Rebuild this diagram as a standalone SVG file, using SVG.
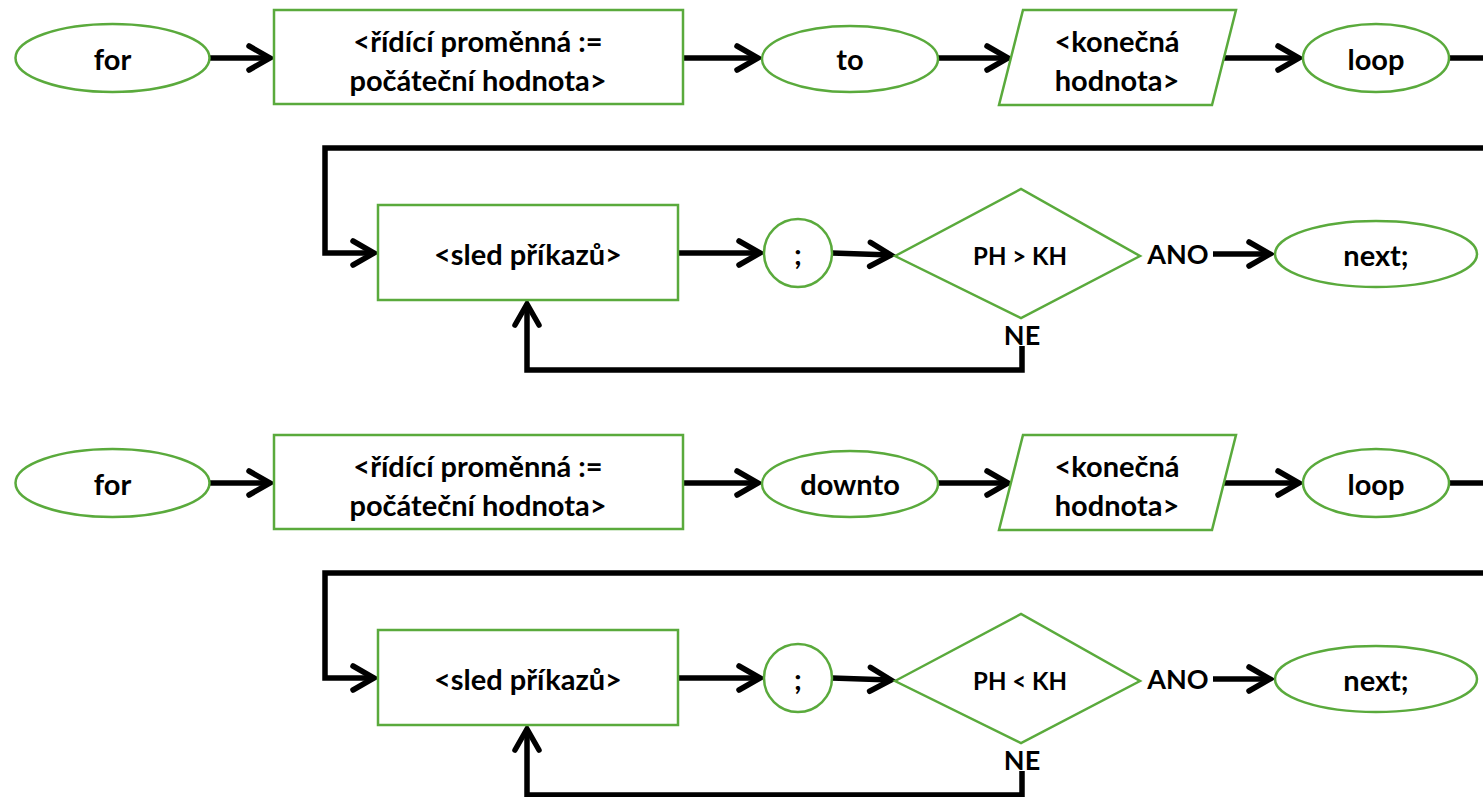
<svg xmlns="http://www.w3.org/2000/svg" width="1483" height="797" viewBox="0 0 1483 797">
<defs>
<style>
.n{fill:#fff;stroke:#5AAA3C;stroke-width:2.5}
.t{font-family:Lato,"Open Sans","DejaVu Sans",sans-serif;font-weight:bold;font-size:29px;fill:#000;text-anchor:middle;dominant-baseline:central}
.s{font-size:24px}
.m{font-size:27px}
.c{fill:none;stroke:#000;stroke-width:5.5;marker-end:url(#ah)}
.p{fill:none;stroke:#000;stroke-width:5.5}
</style>
<marker id="ah" markerUnits="userSpaceOnUse" markerWidth="40" markerHeight="40" viewBox="-30 -20 40 40" refX="0" refY="0" orient="auto">
<path d="M-21,-12 L0,0 L-21,12" fill="none" stroke="#000" stroke-width="5.5" stroke-linecap="round" stroke-linejoin="miter"/>
</marker>
</defs>
<rect width="1483" height="797" fill="#fff"/>

<g id="connectors">
<line class="c" x1="210" y1="58" x2="270" y2="58"/>
<line class="c" x1="683" y1="58" x2="758" y2="58"/>
<line class="c" x1="938" y1="58" x2="1008" y2="58"/>
<line class="c" x1="1224" y1="58" x2="1299" y2="58"/>
<line class="p" x1="1449" y1="58" x2="1483" y2="58"/>
<path class="c" d="M1483,148 H325 V253 H374"/>
<line class="c" x1="678" y1="253" x2="760" y2="253"/>
<line class="c" x1="832" y1="253" x2="891" y2="255"/>
<line class="c" x1="1213" y1="254" x2="1270" y2="254"/>
<path class="c" d="M1022,346 V370 H527 V304"/>

<line class="c" x1="210" y1="483" x2="270" y2="483"/>
<line class="c" x1="683" y1="483" x2="758" y2="483"/>
<line class="c" x1="938" y1="483" x2="1008" y2="483"/>
<line class="c" x1="1224" y1="483" x2="1299" y2="483"/>
<line class="p" x1="1449" y1="483" x2="1483" y2="483"/>
<path class="c" d="M1483,573 H325 V678 H374"/>
<line class="c" x1="678" y1="678" x2="760" y2="678"/>
<line class="c" x1="832" y1="678" x2="891" y2="680"/>
<line class="c" x1="1213" y1="679" x2="1270" y2="679"/>
<path class="c" d="M1022,771 V795 H527 V729"/>
</g>

<g id="for1"><ellipse class="n" cx="112.5" cy="58" rx="97" ry="34"/><text class="t" x="112.5" y="58">for</text></g>
<g id="init1"><rect class="n" x="274" y="10" width="409" height="94"/><text class="t" x="478" y="40">&lt;řídící proměnná :=</text><text class="t" x="478" y="79">počáteční hodnota&gt;</text></g>
<g id="to1"><ellipse class="n" cx="850" cy="59" rx="88" ry="33"/><text class="t" x="850" y="58">to</text></g>
<g id="end1"><polygon class="n" points="1023,10 1236,10 1212,105 999,105"/><text class="t" x="1117" y="40">&lt;konečná</text><text class="t" x="1117" y="79">hodnota&gt;</text></g>
<g id="loop1"><ellipse class="n" cx="1376" cy="58" rx="73" ry="34"/><text class="t" x="1376" y="58">loop</text></g>
<g id="body1"><rect class="n" x="378" y="205" width="300" height="95"/><text class="t" x="528" y="253">&lt;sled příkazů&gt;</text></g>
<g id="semi1"><ellipse class="n" cx="798" cy="253" rx="34" ry="34"/><text class="t" x="798" y="253">;</text></g>
<g id="cond1"><polygon class="n" points="895,256 1021,189 1140,256 1021,318"/><text class="t s" x="1020" y="255">PH &gt; KH</text></g>
<g id="ano1"><text class="t m" x="1178" y="253">ANO</text></g>
<g id="ne1"><text class="t m" x="1022" y="334">NE</text></g>
<g id="next1"><ellipse class="n" cx="1376" cy="254" rx="101" ry="33"/><text class="t" x="1376" y="254">next;</text></g>

<g id="for2"><ellipse class="n" cx="112.5" cy="483" rx="97" ry="34"/><text class="t" x="112.5" y="483">for</text></g>
<g id="init2"><rect class="n" x="274" y="435" width="409" height="94"/><text class="t" x="478" y="465">&lt;řídící proměnná :=</text><text class="t" x="478" y="504">počáteční hodnota&gt;</text></g>
<g id="downto2"><ellipse class="n" cx="850" cy="484" rx="88" ry="33"/><text class="t" x="850" y="483">downto</text></g>
<g id="end2"><polygon class="n" points="1023,435 1236,435 1212,530 999,530"/><text class="t" x="1117" y="465">&lt;konečná</text><text class="t" x="1117" y="504">hodnota&gt;</text></g>
<g id="loop2"><ellipse class="n" cx="1376" cy="483" rx="73" ry="34"/><text class="t" x="1376" y="483">loop</text></g>
<g id="body2"><rect class="n" x="378" y="630" width="300" height="95"/><text class="t" x="528" y="678">&lt;sled příkazů&gt;</text></g>
<g id="semi2"><ellipse class="n" cx="798" cy="678" rx="34" ry="34"/><text class="t" x="798" y="678">;</text></g>
<g id="cond2"><polygon class="n" points="895,681 1021,614 1140,681 1021,743"/><text class="t s" x="1020" y="680">PH &lt; KH</text></g>
<g id="ano2"><text class="t m" x="1178" y="678">ANO</text></g>
<g id="ne2"><text class="t m" x="1022" y="759">NE</text></g>
<g id="next2"><ellipse class="n" cx="1376" cy="679" rx="101" ry="33"/><text class="t" x="1376" y="679">next;</text></g>
</svg>
